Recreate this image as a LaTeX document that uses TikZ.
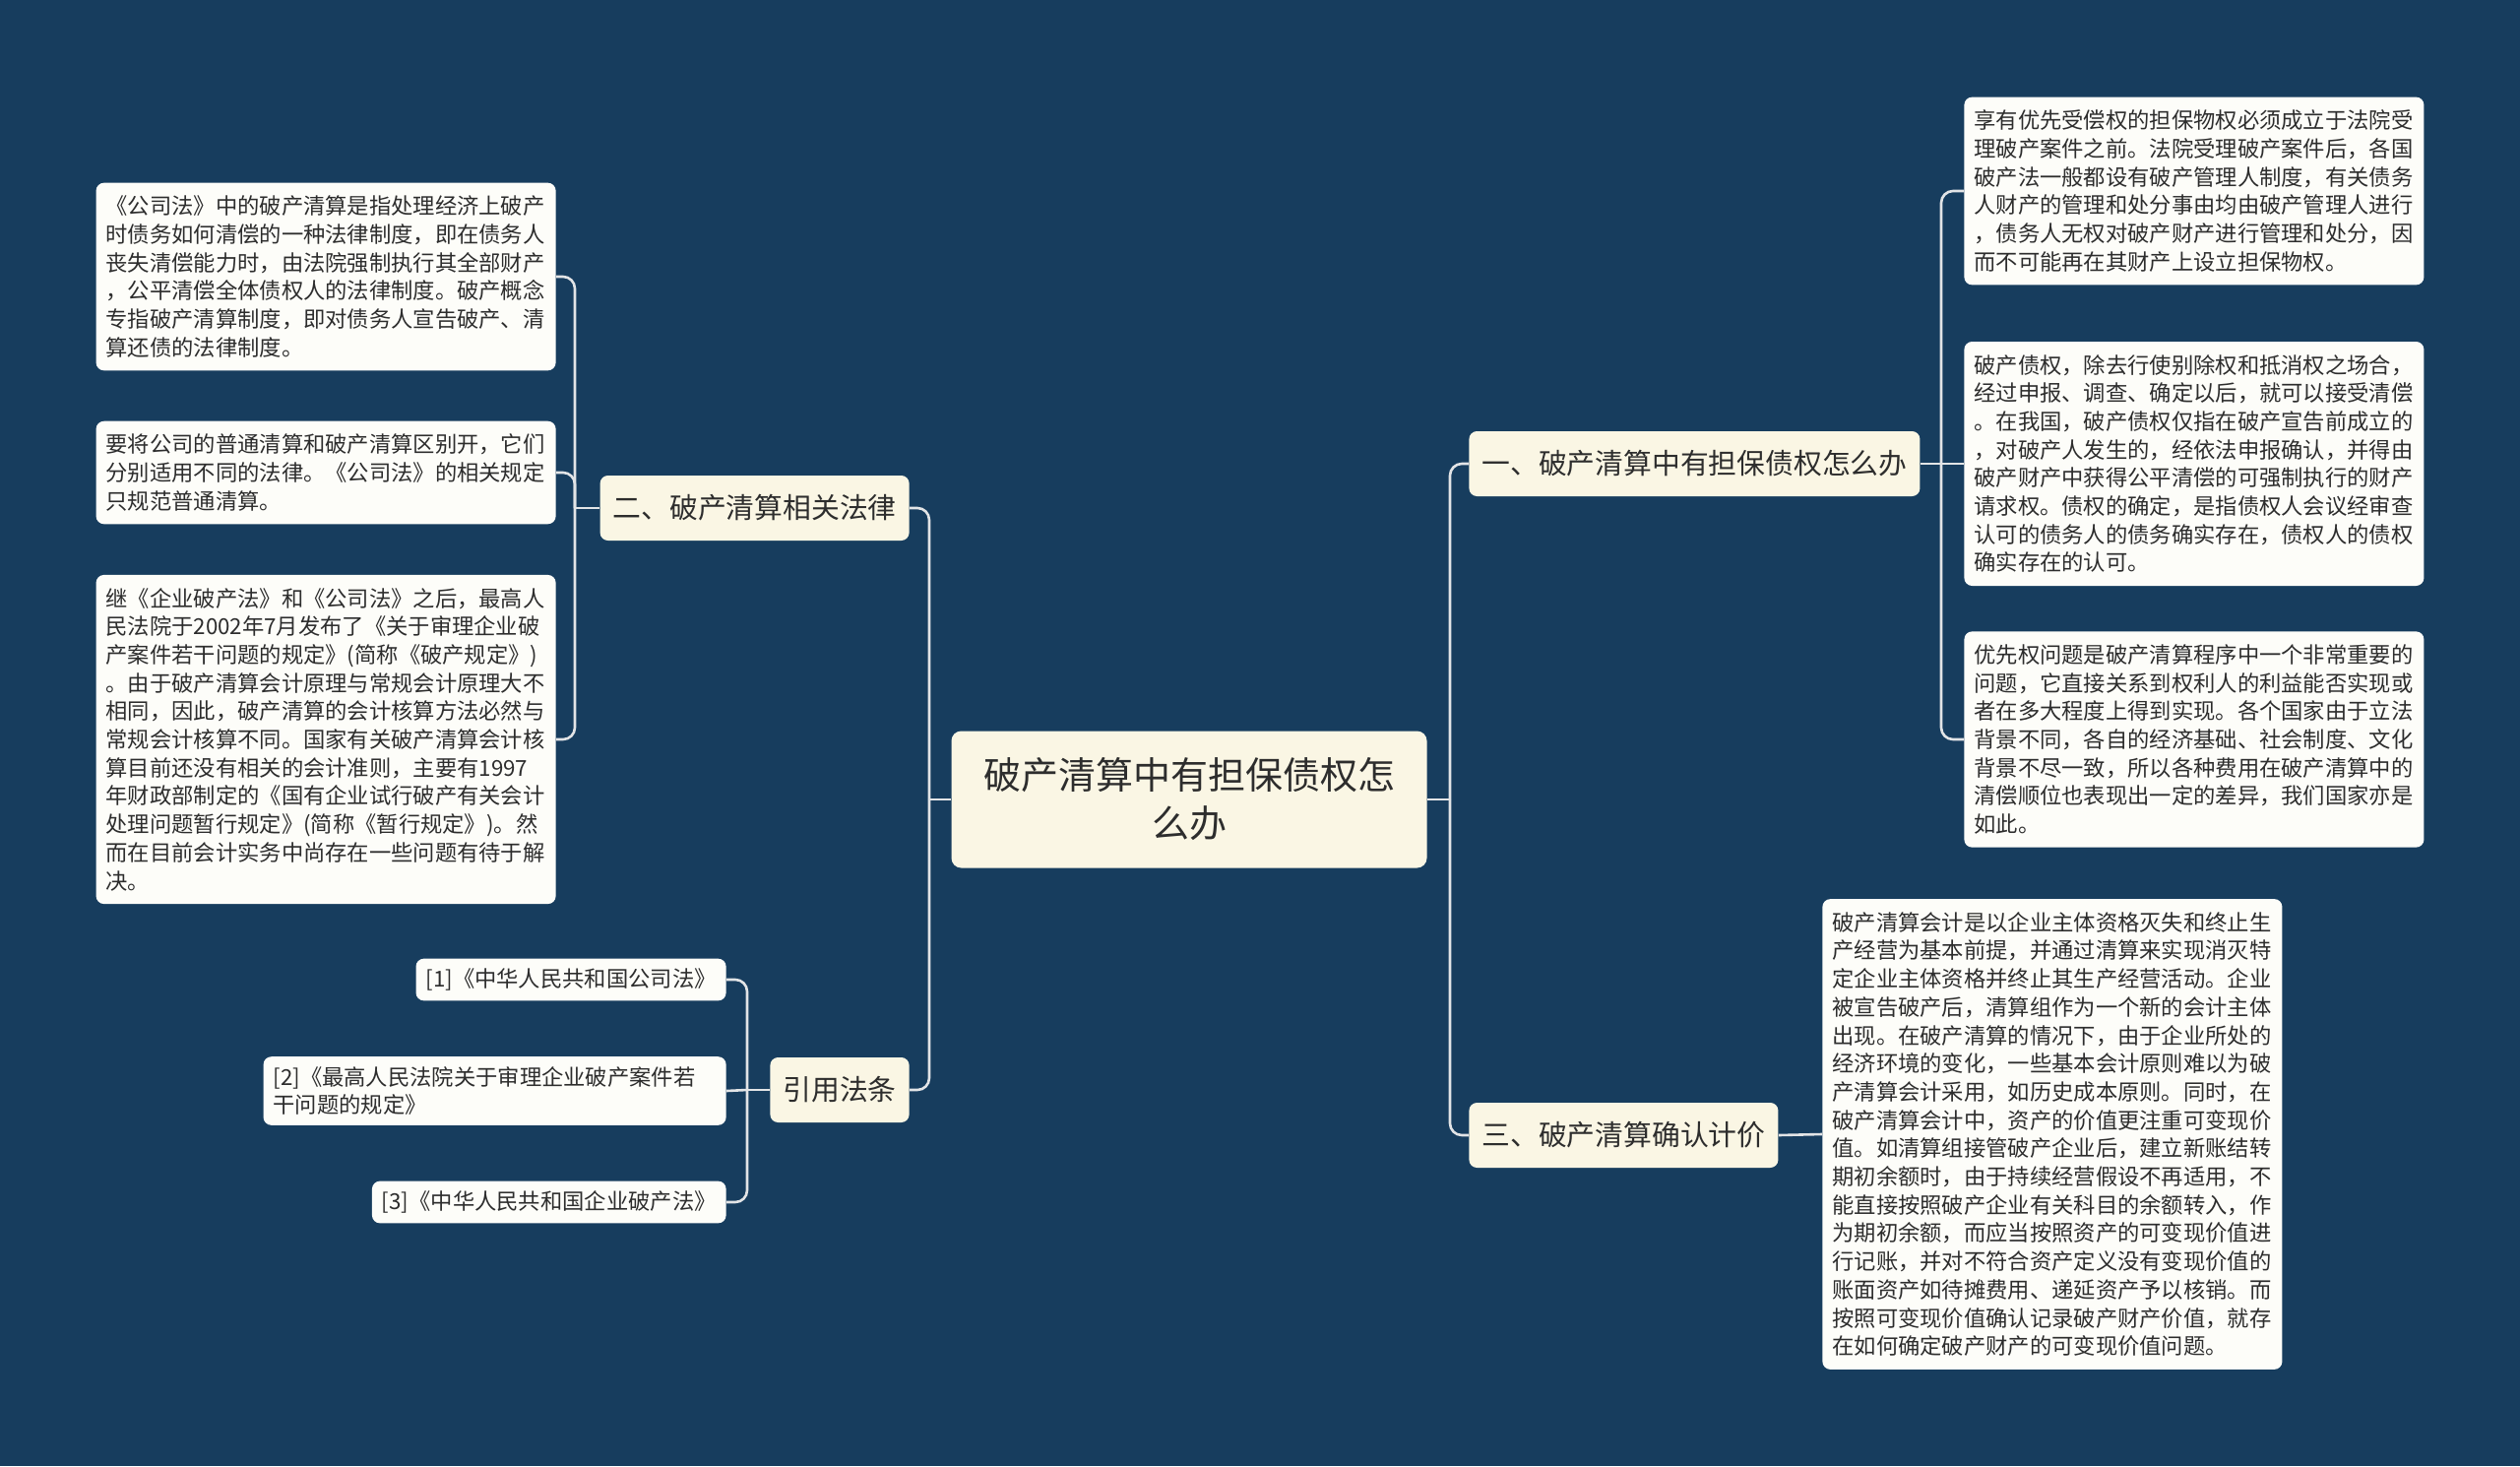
\documentclass[tikz,border=0pt]{standalone}
\usepackage{fontspec}
\setmainfont{Noto Sans CJK SC}
\usetikzlibrary{positioning}
\definecolor{NavyBg}{RGB}{23,61,94}
\definecolor{CreamFill}{RGB}{250,246,228}
\definecolor{LeafFill}{RGB}{253,253,249}
\definecolor{LinkGray}{RGB}{226,228,230}
\definecolor{InkGray}{RGB}{45,45,45}
\tikzset{
  root/.style={fill=CreamFill,rounded corners=5pt,text=InkGray,align=center,
    minimum width=241.5pt,minimum height=69.5pt,font=\fontsize{19pt}{24.5pt}\selectfont},
  topic/.style={fill=CreamFill,rounded corners=4pt,text=InkGray,inner xsep=6.5pt,
    minimum height=33pt,font=\fontsize{14.4pt}{17pt}\selectfont},
  leaf/.style={fill=LeafFill,rounded corners=4pt,text=InkGray,align=left,
    inner xsep=5pt,inner ysep=6.6pt,font=\fontsize{11.15pt}{14.35pt}\selectfont},
  note/.style={leaf,text width=223.5pt},
  cite/.style={leaf,inner ysep=5pt},
  link/.style={draw=LinkGray,line width=1.3pt,rounded corners=6pt},
}

\begin{document}
\begin{tikzpicture}[x=0.5pt,y=-0.5pt]
\fill[NavyBg] (0,0) rectangle (2560,1489);
\useasboundingbox (0,0) rectangle (2560,1489);
% centre and main topics
\node[root] (main) at (1208,812) {破产清算中有担保债权怎\\么办};
\node[topic,anchor=west] (t1) at (1492,471) {一、破产清算中有担保债权怎么办};
\node[topic,anchor=west] (t3) at (1492,1153) {三、破产清算确认计价};
\node[topic,anchor=east] (t2) at (924,516) {二、破产清算相关法律};
\node[topic,anchor=east] (t4) at (924,1107) {引用法条};
% notes of topic one
\node[note,anchor=west] (r1) at (1995,194) {享有优先受偿权的担保物权必须成立于法院受\\
理破产案件之前。法院受理破产案件后，各国\\
破产法一般都设有破产管理人制度，有关债务\\
人财产的管理和处分事由均由破产管理人进行\\
，债务人无权对破产财产进行管理和处分，因\\
而不可能再在其财产上设立担保物权。};
\node[note,anchor=west] (r2) at (1995,471) {破产债权，除去行使别除权和抵消权之场合，\\
经过申报、调查、确定以后，就可以接受清偿\\
。在我国，破产债权仅指在破产宣告前成立的\\
，对破产人发生的，经依法申报确认，并得由\\
破产财产中获得公平清偿的可强制执行的财产\\
请求权。债权的确定，是指债权人会议经审查\\
认可的债务人的债务确实存在，债权人的债权\\
确实存在的认可。};
\node[note,anchor=west] (r3) at (1995,751) {优先权问题是破产清算程序中一个非常重要的\\
问题，它直接关系到权利人的利益能否实现或\\
者在多大程度上得到实现。各个国家由于立法\\
背景不同，各自的经济基础、社会制度、文化\\
背景不尽一致，所以各种费用在破产清算中的\\
清偿顺位也表现出一定的差异，我们国家亦是\\
如此。};
% note of topic three
\node[note,anchor=west] (s1) at (1851,1152) {破产清算会计是以企业主体资格灭失和终止生\\
产经营为基本前提，并通过清算来实现消灭特\\
定企业主体资格并终止其生产经营活动。企业\\
被宣告破产后，清算组作为一个新的会计主体\\
出现。在破产清算的情况下，由于企业所处的\\
经济环境的变化，一些基本会计原则难以为破\\
产清算会计采用，如历史成本原则。同时，在\\
破产清算会计中，资产的价值更注重可变现价\\
值。如清算组接管破产企业后，建立新账结转\\
期初余额时，由于持续经营假设不再适用，不\\
能直接按照破产企业有关科目的余额转入，作\\
为期初余额，而应当按照资产的可变现价值进\\
行记账，并对不符合资产定义没有变现价值的\\
账面资产如待摊费用、递延资产予以核销。而\\
按照可变现价值确认记录破产财产价值，就存\\
在如何确定破产财产的可变现价值问题。};
% notes of topic two
\node[note,anchor=east] (l1) at (565,281) {《公司法》中的破产清算是指处理经济上破产\\
时债务如何清偿的一种法律制度，即在债务人\\
丧失清偿能力时，由法院强制执行其全部财产\\
，公平清偿全体债权人的法律制度。破产概念\\
专指破产清算制度，即对债务人宣告破产、清\\
算还债的法律制度。};
\node[note,anchor=east] (l2) at (565,480) {要将公司的普通清算和破产清算区别开，它们\\
分别适用不同的法律。《公司法》的相关规定\\
只规范普通清算。};
\node[note,anchor=east] (l3) at (565,751) {继《企业破产法》和《公司法》之后，最高人\\
民法院于2002年7月发布了《关于审理企业破\\
产案件若干问题的规定》(简称《破产规定》)\\
。由于破产清算会计原理与常规会计原理大不\\
相同，因此，破产清算的会计核算方法必然与\\
常规会计核算不同。国家有关破产清算会计核\\
算目前还没有相关的会计准则，主要有1997\\
年财政部制定的《国有企业试行破产有关会计\\
处理问题暂行规定》(简称《暂行规定》)。然\\
而在目前会计实务中尚存在一些问题有待于解\\
决。};
% cited laws
\node[cite,anchor=east] (c1) at (738,995) {[1]《中华人民共和国公司法》};
\node[cite,anchor=east,text width=225pt] (c2) at (738,1108) {[2]《最高人民法院关于审理企业破产案件若\\干问题的规定》};
\node[cite,anchor=east] (c3) at (738,1221) {[3]《中华人民共和国企业破产法》};
% junctions
\coordinate (jr) at (1473,812);
\coordinate (jl) at (944,812);
\coordinate (j1) at (1972,471);
\coordinate (j2) at (584,516);
\coordinate (j4) at (759,1107);
% connectors
\draw[link] (main.east) -- (jr);
\draw[link] (jr) |- (t1.west);
\draw[link] (jr) |- (t3.west);
\draw[link] (main.west) -- (jl);
\draw[link] (jl) |- (t2.east);
\draw[link] (jl) |- (t4.east);
\draw[link] (t1.east) -- (j1);
\draw[link] (j1) |- (r1.west);
\draw[link] (j1) -- (r2.west);
\draw[link] (j1) |- (r3.west);
\draw[link] (t3.east) -- (s1.west);
\draw[link] (t2.west) -- (j2);
\draw[link] (j2) |- (l1.east);
\draw[link] (j2) |- (l2.east);
\draw[link] (j2) |- (l3.east);
\draw[link] (t4.west) -- (j4);
\draw[link] (j4) |- (c1.east);
\draw[link] (j4) -- (c2.east);
\draw[link] (j4) |- (c3.east);
\end{tikzpicture}
\end{document}
